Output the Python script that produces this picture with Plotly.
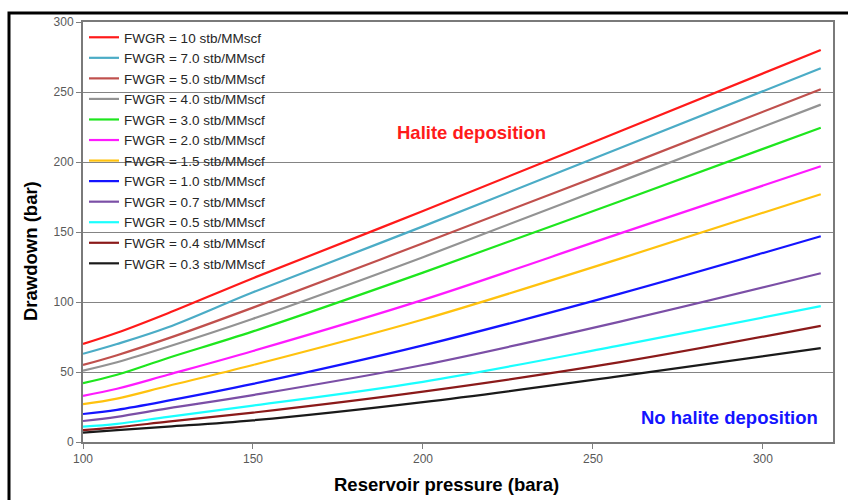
import plotly.graph_objects as go

# Reservoir pressure (bara)
pressure = [100, 110, 125, 150, 200, 258, 317]

# Drawdown (bar) for each FWGR curve
labels = ["FWGR = 10 stb/MMscf", "FWGR = 7.0 stb/MMscf", "FWGR = 5.0 stb/MMscf",
          "FWGR = 4.0 stb/MMscf", "FWGR = 3.0 stb/MMscf", "FWGR = 2.0 stb/MMscf",
          "FWGR = 1.5 stb/MMscf", "FWGR = 1.0 stb/MMscf", "FWGR = 0.7 stb/MMscf",
          "FWGR = 0.5 stb/MMscf", "FWGR = 0.4 stb/MMscf", "FWGR = 0.3 stb/MMscf"]

fwgr_10 = [70, 78, 92, 117, 165, 222, 280]
fwgr_7_0 = [63, 70, 82, 107, 154, 210, 267]
fwgr_5_0 = [55, 62, 74, 96, 142, 196, 252]
fwgr_4_0 = [51, 57, 68, 88, 132, 186, 241]
fwgr_3_0 = [42, 48, 60, 79, 121, 172, 224.5]
fwgr_2_0 = [33, 38, 48, 65, 101.5, 149, 197]
fwgr_1_5 = [27, 31, 40, 55, 87.5, 131, 177]
fwgr_1_0 = [20, 23, 29.5, 41.5, 69, 106, 147]
fwgr_0_7 = [15, 18, 24, 33.5, 55, 86, 120.5]
fwgr_0_5 = [11, 13, 18, 26, 43, 69, 97]
fwgr_0_4 = [8.5, 10.5, 14.5, 21, 36, 57, 83]
fwgr_0_3 = [6.7, 8.5, 11, 15.5, 28.5, 47, 67]

series = [fwgr_10, fwgr_7_0, fwgr_5_0, fwgr_4_0, fwgr_3_0, fwgr_2_0,
          fwgr_1_5, fwgr_1_0, fwgr_0_7, fwgr_0_5, fwgr_0_4, fwgr_0_3]
colors = ["#FF1A1A", "#4BACC6", "#C0504D", "#939393", "#1EE61E", "#FF1AFF",
          "#FFC20E", "#1414FF", "#7B4FA6", "#1AFFFF", "#8B1A1A", "#1A1A1A"]

x_ticks = [100, 150, 200, 250, 300]
y_ticks = [0, 50, 100, 150, 200, 250, 300]

FONT = "Liberation Sans, Arial, sans-serif"

# plot area in pixels
L, R, T, B = 83, 833, 22, 442
W, H = 848, 500


def px(x):
    return (x - L) / (R - L)


def py(y):
    return (B - y) / (B - T)


fig = go.Figure()
for name, vals, col in zip(labels, series, colors):
    fig.add_trace(go.Scatter(x=pressure, y=vals, mode="lines", name=name,
                             line=dict(color=col, width=2.2, shape="spline", smoothing=1.0)))

fig.update_layout(
    width=W, height=H,
    margin=dict(l=L, r=W - R, t=T, b=H - B),
    paper_bgcolor="white", plot_bgcolor="white",
    font=dict(family=FONT, size=12, color="#595959"),
    showlegend=True,
    legend=dict(x=px(84), y=1, xanchor="left", yanchor="top",
                bgcolor="rgba(0,0,0,0)", borderwidth=0,
                font=dict(family=FONT, size=13.5, color="#262626"),
                tracegroupgap=0),
    xaxis=dict(range=[100, 320.6], tickvals=x_ticks, ticks="outside", ticklen=5,
               tickcolor="#7f7f7f", showgrid=False, zeroline=False,
               showline=True, linecolor="#7a7a7a", linewidth=2, mirror=True,
               tickfont=dict(size=12, color="#595959")),
    yaxis=dict(range=[0, 300], tickvals=y_ticks, ticks="outside", ticklen=5,
               tickcolor="#7f7f7f", showgrid=True, gridcolor="#848484", gridwidth=1.4,
               zeroline=False, showline=True, linecolor="#7a7a7a", linewidth=2,
               mirror=True, tickfont=dict(size=12, color="#595959")),
)

annotations = [
    dict(text="<b>Drawdown (bar)</b>", x=px(30), y=py(251), textangle=-90,
         font=dict(family=FONT, size=18.5, color="black")),
    dict(text="<b>Reservoir pressure (bara)</b>", x=px(446), y=py(484),
         font=dict(family=FONT, size=18.5, color="black")),
    dict(text="<b>Halite deposition</b>", x=px(471), y=py(132), bgcolor="white",
         font=dict(family=FONT, size=18.5, color="#FF1A1A")),
    dict(text="<b>No halite deposition</b>", x=px(820), y=py(417), xanchor="right",
         bgcolor="white", font=dict(family=FONT, size=18.5, color="#1414FF")),
]
for a in annotations:
    a.update(xref="paper", yref="paper", showarrow=False)
    a.setdefault("xanchor", "center")
    a.setdefault("yanchor", "middle")
fig.update_layout(annotations=annotations)

# white legend panel covering the gridlines (drawn above grid, below traces)
fig.add_shape(type="rect", xref="paper", yref="paper",
              x0=px(86), x1=px(272), y0=py(27), y1=py(271),
              line=dict(width=0), fillcolor="white", layer="between")

# outer frame of the figure
fig.add_shape(type="rect", xref="paper", yref="paper",
              x0=px(9), x1=px(860), y0=py(13), y1=py(520),
              line=dict(color="black", width=3), layer="above")

fig.write_html("out.html")
